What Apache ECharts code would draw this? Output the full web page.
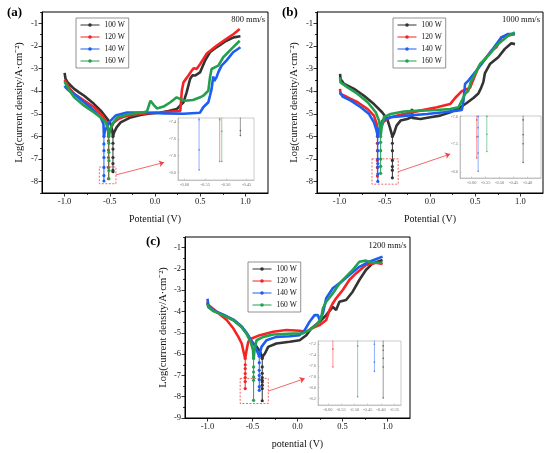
<!DOCTYPE html>
<html>
<head>
<meta charset="utf-8">
<title>Polarization curves</title>
<script src="https://cdn.jsdelivr.net/npm/echarts@6/dist/echarts.min.js"></script>
<style>
    html, body { margin: 0; padding: 0; background: #fff; }
    #chart { width: 550px; height: 453px; }
</style>
</head>
<body>
<div id="chart"></div>
<script>
// Legend names and colours
const powerNames = ['100 W', '120 W', '140 W', '160 W'];
const lineColors = ['#333333', '#f52424', '#1b5ef2', '#22a04d'];

// Axis ticks
const mainXTicks = [-1, -0.5, 0, 0.5, 1];
const mainXMinor = [-0.75, -0.25, 0.25, 0.75];
const abYTicks = [-8, -7, -6, -5, -4, -3, -2, -1];
const abYMinor = [-8.5, -7.5, -6.5, -5.5, -4.5, -3.5, -2.5, -1.5, -0.5];
const cYTicks = [-9, -8, -7, -6, -5, -4, -3, -2, -1];
const cYMinor = [-8.5, -7.5, -6.5, -5.5, -4.5, -3.5, -2.5, -1.5, -0.5];

// (a) 800 mm/s : [potential V, log current density]
const a100 = [[-1.0,-3.19],[-0.99,-3.45],[-0.967,-3.61],[-0.93,-3.76],[-0.894,-3.90],[-0.84,-4.05],[-0.784,-4.20],[-0.73,-4.38],[-0.674,-4.57],[-0.60,-4.86],[-0.527,-5.23],[-0.49,-5.45],[-0.472,-5.75],[-0.465,-6.0],[-0.455,-5.85],[-0.425,-5.6],[-0.38,-5.38],[-0.27,-5.16],[-0.15,-5.04],[-0.05,-4.98],[0.05,-4.95],[0.15,-4.88],[0.24,-4.79],[0.315,-4.49],[0.35,-4.05],[0.388,-3.46],[0.415,-3.3],[0.443,-3.31],[0.498,-3.17],[0.553,-2.65],[0.608,-2.28],[0.68,-2.06],[0.79,-1.77],[0.87,-1.62],[0.945,-1.575]];
const a120 = [[-1.0,-3.5],[-0.985,-3.6],[-0.95,-3.85],[-0.894,-4.12],[-0.784,-4.42],[-0.674,-4.71],[-0.582,-5.08],[-0.535,-5.38],[-0.52,-5.7],[-0.515,-6.0],[-0.505,-5.8],[-0.484,-5.6],[-0.455,-5.38],[-0.40,-5.22],[-0.345,-5.13],[-0.16,-5.0],[0.058,-4.94],[0.18,-4.9],[0.28,-4.87],[0.297,-3.98],[0.315,-3.61],[0.37,-3.31],[0.406,-3.09],[0.43,-2.98],[0.46,-3.02],[0.50,-2.8],[0.57,-2.35],[0.68,-1.99],[0.79,-1.69],[0.87,-1.47],[0.937,-1.25]];
const a140 = [[-1.0,-3.76],[-0.985,-3.85],[-0.95,-3.98],[-0.894,-4.12],[-0.784,-4.49],[-0.674,-4.86],[-0.60,-5.16],[-0.57,-5.45],[-0.565,-6.0],[-0.555,-5.75],[-0.527,-5.55],[-0.51,-5.38],[-0.436,-5.08],[-0.31,-4.94],[-0.09,-4.94],[0.1,-4.98],[0.315,-5.0],[0.498,-4.95],[0.534,-4.71],[0.59,-4.49],[0.608,-4.2],[0.626,-3.9],[0.645,-3.35],[0.655,-3.55],[0.68,-3.39],[0.70,-3.17],[0.736,-2.87],[0.79,-2.65],[0.864,-2.28],[0.945,-2.06]];
const a160 = [[-1.0,-3.56],[-0.985,-3.7],[-0.95,-3.95],[-0.894,-4.27],[-0.784,-4.64],[-0.674,-4.94],[-0.60,-5.16],[-0.545,-5.38],[-0.52,-5.65],[-0.51,-6.0],[-0.50,-5.75],[-0.473,-5.45],[-0.418,-5.16],[-0.27,-5.0],[-0.125,-4.94],[-0.088,-4.88],[-0.065,-4.6],[-0.05,-4.42],[-0.03,-4.5],[-0.015,-4.6],[0.022,-4.76],[0.095,-4.68],[0.17,-4.49],[0.24,-4.27],[0.28,-4.35],[0.33,-4.42],[0.42,-4.39],[0.50,-4.27],[0.534,-4.2],[0.59,-3.98],[0.608,-3.39],[0.626,-3.02],[0.70,-2.87],[0.755,-2.5],[0.846,-2.13],[0.937,-1.77]];
const a100Dip = [[-0.465,-6.0],[-0.465,-6.3],[-0.465,-6.56],[-0.465,-6.93],[-0.465,-7.2],[-0.465,-7.5],[-0.465,-7.56]];
const a120Dip = [[-0.515,-6.0],[-0.515,-6.2],[-0.515,-6.6],[-0.515,-6.93],[-0.515,-7.37],[-0.515,-7.87]];
const a140Dip = [[-0.565,-6.0],[-0.565,-6.33],[-0.565,-6.63],[-0.565,-6.93],[-0.565,-7.37],[-0.565,-7.73],[-0.565,-7.97]];
const a160Dip = [[-0.51,-6.0],[-0.51,-6.3],[-0.51,-6.7],[-0.51,-7.07],[-0.51,-7.51],[-0.51,-7.87]];
const aInsetX = [-0.616, -0.432];
const aInsetY = [-8.09, -7.35];
const aInsetXTicks = [-0.60, -0.55, -0.50, -0.45];
const aInsetYTicks = [-8.0, -7.8, -7.6, -7.4];
const aArrow = [[-0.432, -7.7], [0.10, -7.15]];

// (b) 1000 mm/s
const b100 = [[-0.995,-3.24],[-0.99,-3.46],[-0.95,-3.68],[-0.84,-3.90],[-0.73,-4.20],[-0.62,-4.57],[-0.53,-4.93],[-0.473,-5.23],[-0.444,-5.60],[-0.416,-6.0],[-0.40,-5.89],[-0.37,-5.52],[-0.326,-5.30],[-0.253,-5.23],[-0.205,-5.15],[-0.2,-4.78],[-0.195,-5.18],[-0.106,-5.23],[0.003,-5.15],[0.113,-5.08],[0.223,-4.93],[0.333,-4.72],[0.406,-4.52],[0.48,-4.3],[0.535,-4.10],[0.56,-3.9],[0.59,-3.6],[0.608,-3.2],[0.663,-2.80],[0.755,-2.50],[0.828,-2.13],[0.90,-1.88],[0.94,-1.92]];
const b120 = [[-0.995,-3.90],[-0.99,-4.12],[-0.912,-4.27],[-0.80,-4.49],[-0.69,-4.79],[-0.62,-5.08],[-0.59,-5.45],[-0.582,-6.0],[-0.565,-5.75],[-0.546,-5.60],[-0.51,-5.33],[-0.436,-5.15],[-0.29,-5.01],[-0.107,-4.86],[0.076,-4.71],[0.223,-4.57],[0.278,-4.30],[0.352,-4.0],[0.443,-3.85],[0.498,-3.31],[0.535,-2.95],[0.608,-2.58],[0.68,-2.21],[0.736,-2.06],[0.79,-1.62],[0.938,-1.47]];
const b140 = [[-0.995,-4.05],[-0.967,-4.24],[-0.876,-4.42],[-0.766,-4.71],[-0.674,-5.01],[-0.62,-5.38],[-0.59,-5.75],[-0.577,-6.0],[-0.568,-5.75],[-0.55,-5.52],[-0.528,-5.30],[-0.436,-5.15],[-0.253,-5.08],[-0.033,-5.01],[0.15,-4.93],[0.297,-4.86],[0.352,-4.83],[0.37,-4.42],[0.388,-3.68],[0.425,-3.53],[0.498,-3.17],[0.571,-2.80],[0.68,-2.21],[0.79,-1.62],[0.864,-1.47],[0.938,-1.47]];
const b160 = [[-0.995,-3.39],[-0.99,-3.61],[-0.912,-3.83],[-0.80,-4.12],[-0.69,-4.49],[-0.60,-4.93],[-0.564,-5.30],[-0.55,-5.67],[-0.546,-6.0],[-0.535,-5.6],[-0.51,-5.15],[-0.436,-5.01],[-0.29,-4.90],[-0.107,-4.86],[0.076,-4.83],[0.223,-4.79],[0.315,-4.71],[0.352,-4.42],[0.388,-4.12],[0.425,-3.98],[0.45,-3.6],[0.498,-3.24],[0.553,-2.80],[0.645,-2.43],[0.755,-1.91],[0.864,-1.55],[0.938,-1.40]];
const b100Dip = [[-0.416,-6.0],[-0.416,-6.3],[-0.416,-6.63],[-0.416,-7.06],[-0.416,-7.33],[-0.416,-7.49],[-0.416,-7.83]];
const b120Dip = [[-0.582,-6.0],[-0.582,-6.3],[-0.582,-6.63],[-0.582,-7.06],[-0.582,-7.37],[-0.582,-7.75]];
const b140Dip = [[-0.577,-6.0],[-0.577,-6.3],[-0.577,-6.63],[-0.577,-7.0],[-0.577,-7.2],[-0.577,-7.36],[-0.577,-7.66],[-0.577,-7.99]];
const b160Dip = [[-0.546,-6.0],[-0.546,-6.26],[-0.546,-6.63],[-0.546,-7.0],[-0.546,-7.32],[-0.546,-7.63]];
const bInsetX = [-0.642, -0.352];
const bInsetY = [-8.11, -6.99];
const bInsetXTicks = [-0.60, -0.55, -0.50, -0.45, -0.40];
const bInsetYTicks = [-8.0, -7.5, -7.0];
const bArrow = [[-0.352, -7.56], [0.223, -6.78]];

// (c) 1200 mm/s
const c100 = [[-1.0,-3.6],[-0.99,-3.78],[-0.933,-3.97],[-0.823,-4.17],[-0.712,-4.40],[-0.62,-4.72],[-0.565,-5.03],[-0.51,-5.42],[-0.46,-5.62],[-0.42,-5.85],[-0.40,-6.05],[-0.392,-6.2],[-0.385,-6.1],[-0.362,-5.97],[-0.326,-5.66],[-0.235,-5.50],[-0.087,-5.42],[0.024,-5.35],[0.098,-5.11],[0.153,-4.80],[0.245,-4.48],[0.319,-4.17],[0.392,-3.78],[0.41,-3.7],[0.429,-3.93],[0.466,-3.54],[0.54,-3.46],[0.613,-3.07],[0.687,-2.52],[0.76,-2.05],[0.834,-1.74],[0.945,-1.58]];
const c120 = [[-1.0,-3.55],[-0.99,-3.70],[-0.897,-4.01],[-0.787,-4.40],[-0.712,-4.80],[-0.657,-5.19],[-0.62,-5.50],[-0.595,-5.97],[-0.581,-6.2],[-0.565,-5.8],[-0.547,-5.42],[-0.51,-5.27],[-0.418,-5.11],[-0.27,-4.95],[-0.124,-4.87],[0.024,-4.90],[0.098,-4.95],[0.153,-4.80],[0.245,-4.64],[0.319,-4.40],[0.355,-3.93],[0.392,-3.62],[0.429,-3.38],[0.503,-2.99],[0.576,-2.52],[0.65,-2.21],[0.76,-1.82],[0.871,-1.71],[0.945,-1.77]];
const c140 = [[-1.0,-3.4],[-0.99,-3.75],[-0.933,-3.95],[-0.823,-4.15],[-0.712,-4.38],[-0.62,-4.70],[-0.565,-5.0],[-0.51,-5.38],[-0.47,-5.65],[-0.44,-5.95],[-0.425,-6.1],[-0.415,-5.9],[-0.40,-5.66],[-0.345,-5.35],[-0.235,-5.19],[-0.087,-5.16],[0.024,-5.11],[0.08,-4.87],[0.134,-4.48],[0.19,-4.17],[0.227,-4.17],[0.245,-4.40],[0.282,-4.09],[0.319,-3.38],[0.392,-2.91],[0.466,-2.68],[0.576,-2.29],[0.687,-1.90],[0.797,-1.66],[0.945,-1.42]];
const c160 = [[-1.0,-3.65],[-0.99,-3.80],[-0.933,-3.98],[-0.823,-4.18],[-0.712,-4.41],[-0.62,-4.74],[-0.565,-5.05],[-0.52,-5.45],[-0.495,-5.8],[-0.488,-6.2],[-0.475,-5.75],[-0.455,-5.35],[-0.38,-5.19],[-0.27,-5.08],[-0.05,-5.03],[0.06,-5.03],[0.134,-4.87],[0.208,-4.64],[0.263,-4.32],[0.282,-3.85],[0.319,-3.54],[0.392,-3.15],[0.466,-2.68],[0.54,-2.36],[0.613,-2.05],[0.687,-1.66],[0.76,-1.61],[0.834,-1.71],[0.945,-1.71]];
const c100Dip = [[-0.392,-6.2],[-0.392,-6.6],[-0.392,-6.9],[-0.392,-7.1],[-0.392,-7.23],[-0.392,-7.31],[-0.392,-7.46],[-0.392,-7.62],[-0.392,-8.19]];
const c120Dip = [[-0.581,-6.2],[-0.581,-6.5],[-0.581,-6.68],[-0.581,-6.91],[-0.581,-7.10],[-0.581,-7.29],[-0.581,-7.62]];
const c140Dip = [[-0.425,-6.1],[-0.425,-6.4],[-0.425,-6.76],[-0.425,-7.0],[-0.425,-7.2],[-0.425,-7.53],[-0.425,-7.70]];
const c160Dip = [[-0.488,-6.2],[-0.488,-6.6],[-0.488,-6.84],[-0.488,-7.07],[-0.488,-7.23],[-0.488,-8.17]];
const cInsetX = [-0.637, -0.325];
const cInsetY = [-8.32, -7.14];
const cInsetXTicks = [-0.60, -0.55, -0.50, -0.45, -0.40, -0.35];
const cInsetYTicks = [-8.2, -8.0, -7.8, -7.6, -7.4, -7.2];
const cArrow = [[-0.325, -7.74], [0.08, -7.15]];

const serif = "'Liberation Serif', 'Times New Roman', serif";

// Panel layout (pixels) and which arrays go where
const panels = [
    {
        label: '(a)', rate: '800 mm/s', xName: 'Potential (V)', yMin: -8.5,
        yTicks: abYTicks, yMinor: abYMinor,
        curves: [a100, a120, a140, a160], dips: [a100Dip, a120Dip, a140Dip, a160Dip],
        insetX: aInsetX, insetY: aInsetY, insetXTicks: aInsetXTicks, insetYTicks: aInsetYTicks, arrow: aArrow,
        grid: { left: 42, top: 12, width: 226, height: 181 },
        inset: { left: 178, top: 118, width: 76, height: 62 },
        legend: { left: 76, top: 18 },
        labelPos: [7, 13], ratePos: [265, 19.5], yNameGap: 17, xNameGap: 21
    },
    {
        label: '(b)', rate: '1000 mm/s', xName: 'Potential (V)', yMin: -8.5,
        yTicks: abYTicks, yMinor: abYMinor,
        curves: [b100, b120, b140, b160], dips: [b100Dip, b120Dip, b140Dip, b160Dip],
        insetX: bInsetX, insetY: bInsetY, insetXTicks: bInsetXTicks, insetYTicks: bInsetYTicks, arrow: bArrow,
        grid: { left: 317, top: 12, width: 226, height: 181 },
        inset: { left: 460, top: 116, width: 81, height: 62 },
        legend: { left: 393, top: 18 },
        labelPos: [282, 13], ratePos: [540, 19.5], yNameGap: 17, xNameGap: 21
    },
    {
        label: '(c)', rate: '1200 mm/s', xName: 'potential (V)', yMin: -9,
        yTicks: cYTicks, yMinor: cYMinor,
        curves: [c100, c120, c140, c160], dips: [c100Dip, c120Dip, c140Dip, c160Dip],
        insetX: cInsetX, insetY: cInsetY, insetXTicks: cInsetXTicks, insetYTicks: cInsetYTicks, arrow: cArrow,
        grid: { left: 185, top: 237, width: 225, height: 181 },
        inset: { left: 318, top: 341, width: 83, height: 64 },
        legend: { left: 248, top: 262 },
        labelPos: [146, 242], ratePos: [406.5, 245.5], yNameGap: 16, xNameGap: 21
    }
];

function tickAxis(gridIndex, min, max, ticks, len, position) {
    // extra axis that only draws the short minor ticks
    return {
        gridIndex: gridIndex, type: 'value', min: min, max: max, position: position,
        axisLine: { show: false, onZero: false },
        axisTick: { show: true, customValues: ticks, length: len, lineStyle: { color: '#000', width: 0.8 } },
        axisLabel: { show: false },
        splitLine: { show: false }
    };
}

function buildPanel(p, option) {
    const g = option.grid.length;
    option.grid.push(Object.assign({ show: true, borderColor: '#000', borderWidth: 1, outerBoundsMode: 'none' }, p.grid));
    const xi = option.xAxis.length;
    const yi = option.yAxis.length;

    option.xAxis.push({
        gridIndex: g, type: 'value', min: -1.25, max: 1.25, position: 'bottom',
        name: p.xName, nameLocation: 'middle', nameGap: p.xNameGap,
        nameTextStyle: { fontFamily: serif, fontSize: 10, color: '#111' },
        axisLine: { show: true, onZero: false, lineStyle: { color: '#000', width: 1 } },
        axisTick: { show: true, customValues: mainXTicks, length: 3.5, lineStyle: { color: '#000', width: 0.8 } },
        axisLabel: { customValues: mainXTicks, formatter: v => v.toFixed(1), fontFamily: serif, fontSize: 8.5, color: '#111', margin: 4 },
        splitLine: { show: false }
    });
    option.xAxis.push(tickAxis(g, -1.25, 1.25, mainXMinor, 2, 'bottom'));

    option.yAxis.push({
        gridIndex: g, type: 'value', min: p.yMin, max: -0.5, position: 'left',
        name: 'Log(current density/A·cm⁻²)', nameLocation: 'middle', nameGap: p.yNameGap,
        nameTextStyle: { fontFamily: serif, fontSize: 10.5, color: '#111' },
        axisLine: { show: true, onZero: false, lineStyle: { color: '#000', width: 1 } },
        axisTick: { show: true, customValues: p.yTicks, length: 3.5, lineStyle: { color: '#000', width: 0.8 } },
        axisLabel: { customValues: p.yTicks, formatter: v => String(v), fontFamily: serif, fontSize: 8.5, color: '#111', margin: 4 },
        splitLine: { show: false }
    });
    option.yAxis.push(tickAxis(g, p.yMin, -0.5, p.yMinor, 2, 'left'));

    // inset grid with its own zoomed axes
    const gi = option.grid.length;
    option.grid.push(Object.assign({ show: true, backgroundColor: '#fff', borderColor: '#aaa', borderWidth: 0.6, z: 10, outerBoundsMode: 'none' }, p.inset));
    const ixi = option.xAxis.length;
    const iyi = option.yAxis.length;
    const insetLabel = { fontFamily: serif, fontSize: 4.5, color: '#777', margin: 2 };
    option.xAxis.push({
        gridIndex: gi, type: 'value', min: p.insetX[0], max: p.insetX[1], z: 10, position: 'bottom',
        axisLine: { show: true, onZero: false, lineStyle: { color: '#aaa', width: 0.6 } },
        axisTick: { show: true, inside: true, customValues: p.insetXTicks, length: 1.5, lineStyle: { color: '#aaa', width: 0.5 } },
        axisLabel: Object.assign({ customValues: p.insetXTicks, formatter: v => v.toFixed(2) }, insetLabel),
        splitLine: { show: false }
    });
    option.yAxis.push({
        gridIndex: gi, type: 'value', min: p.insetY[0], max: p.insetY[1], z: 10, position: 'left',
        axisLine: { show: true, onZero: false, lineStyle: { color: '#aaa', width: 0.6 } },
        axisTick: { show: true, inside: true, customValues: p.insetYTicks, length: 1.5, lineStyle: { color: '#aaa', width: 0.5 } },
        axisLabel: Object.assign({ customValues: p.insetYTicks, formatter: v => v.toFixed(1) }, insetLabel),
        splitLine: { show: false }
    });

    p.curves.forEach((pts, i) => {
        option.series.push({
            name: powerNames[i], type: 'line', xAxisIndex: xi, yAxisIndex: yi,
            data: pts, symbol: 'circle', symbolSize: 3.5, showSymbol: false,
            lineStyle: { color: lineColors[i], width: 2.6 },
            itemStyle: { color: lineColors[i] }, z: 3 + i, silent: true
        });
    });
    p.dips.forEach((pts, i) => {
        option.series.push({
            name: powerNames[i], type: 'line', xAxisIndex: xi, yAxisIndex: yi,
            data: pts, symbol: 'circle', symbolSize: 3.2,
            lineStyle: { color: lineColors[i], width: 1 },
            itemStyle: { color: lineColors[i] }, z: 3 + i, silent: true
        });
        option.series.push({
            name: powerNames[i], type: 'line', xAxisIndex: ixi, yAxisIndex: iyi,
            data: pts, symbol: 'circle', symbolSize: 1.6,
            lineStyle: { color: lineColors[i], width: 0.9, opacity: 0.55 },
            itemStyle: { color: lineColors[i], opacity: 0.7 }, z: 12, silent: true
        });
    });

    // dashed box round the corrosion potentials and the arrow to the inset
    option.series.push({
        type: 'line', xAxisIndex: xi, yAxisIndex: yi, data: [], silent: true, z: 8,
        markArea: {
            silent: true,
            itemStyle: { color: 'rgba(0,0,0,0)', borderColor: '#f04040', borderWidth: 0.8, borderType: [2, 1.5] },
            data: [[{ coord: [p.insetX[0], p.insetY[1]] }, { coord: [p.insetX[1], p.insetY[0]] }]]
        },
        markLine: {
            silent: true, symbol: ['none', 'arrow'], symbolSize: 5,
            label: { show: false },
            lineStyle: { color: '#f04040', width: 0.8, type: 'solid' },
            data: [[{ coord: p.arrow[0] }, { coord: p.arrow[1] }]]
        }
    });

    option.legend.push({
        data: powerNames, orient: 'vertical', left: p.legend.left, top: p.legend.top,
        itemWidth: 19, itemHeight: 4.5, itemGap: 4, padding: [3, 4],
        borderColor: '#777', borderWidth: 0.8, selectedMode: false, z: 20,
        lineStyle: { width: 1 },
        textStyle: { fontFamily: serif, fontSize: 7.5, lineHeight: 7, color: '#111' }
    });

    option.graphic.push({
        type: 'text', left: p.labelPos[0], top: p.labelPos[1] - 7,
        style: { text: p.label, font: 'bold 13px ' + serif, fill: '#000' }
    });
    option.graphic.push({
        type: 'text', x: p.ratePos[0], y: p.ratePos[1],
        style: { text: p.rate, font: '8.5px ' + serif, fill: '#111', align: 'right', verticalAlign: 'middle' }
    });
}

const option = {
    backgroundColor: '#fff',
    animation: false,
    grid: [], xAxis: [], yAxis: [], series: [], legend: [], graphic: []
};
panels.forEach(p => buildPanel(p, option));

const chart = echarts.init(document.getElementById('chart'), null, { renderer: 'canvas' });
chart.setOption(option);
</script>
</body>
</html>
